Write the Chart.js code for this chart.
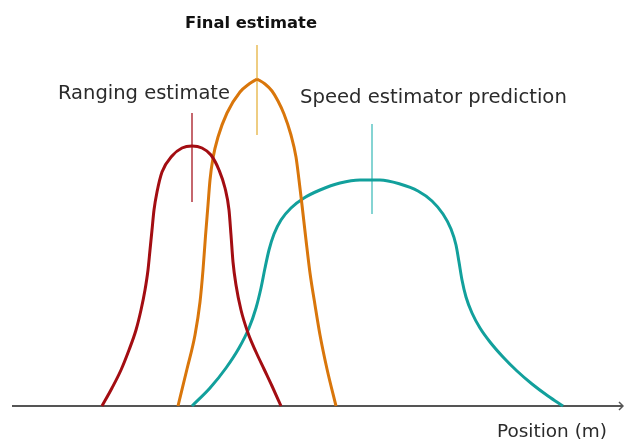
<!DOCTYPE html>
<html>
<head>
<meta charset="utf-8">
<script src="https://cdn.jsdelivr.net/npm/chart.js@4.4.1/dist/chart.umd.min.js"></script>
<style>
  body { margin: 0; background: #fff; }
  #wrap { width: 624px; height: 445px; }
</style>
</head>
<body>
<div id="wrap"><canvas id="myChart" width="624" height="445"></canvas></div>
<script>
// positions (m) and relative likelihood
var rangingPos = [10.2, 11.2, 12.1, 12.9, 13.6, 14.1, 14.5, 14.8, 15.0, 15.2, 15.4, 15.7, 16.2, 17.2, 18.2, 19.2, 20.2, 21.1, 21.9, 22.5, 22.9, 23.1, 23.3, 23.6, 24.1, 24.8, 25.6, 26.4, 27.2, 28.1];
var rangingVal = [0, 0.18, 0.36, 0.56, 0.76, 0.96, 1.16, 1.36, 1.56, 1.76, 1.96, 2.14, 2.34, 2.50, 2.58, 2.60, 2.58, 2.51, 2.36, 2.18, 1.96, 1.71, 1.44, 1.21, 0.96, 0.73, 0.54, 0.37, 0.20, 0];

var finalPos = [17.8, 18.7, 19.5, 20.0, 20.3, 20.55, 20.8, 21.0, 21.3, 21.8, 22.7, 24.0, 24.9, 25.7, 26.5, 27.2, 27.8, 28.4, 29.1, 29.6, 29.9, 30.2, 30.6, 31.0, 31.5, 32.0, 32.7, 33.6];
var finalVal = [0, 0.37, 0.71, 1.04, 1.36, 1.70, 2.01, 2.26, 2.48, 2.69, 2.93, 3.14, 3.22, 3.27, 3.22, 3.15, 3.05, 2.92, 2.71, 2.49, 2.26, 2.01, 1.66, 1.33, 1.01, 0.71, 0.37, 0];

var speedPos = [19.2, 21.0, 22.6, 23.9, 24.9, 25.6, 26.1, 26.5, 26.9, 27.4, 28.1, 29.1, 30.4, 32.0, 34.0, 36.0, 38.0, 40.0, 41.8, 43.2, 44.3, 45.1, 45.6, 45.9, 46.2, 46.6, 47.2, 48.0, 49.0, 50.3, 51.7, 53.2, 54.8, 56.3];
var speedVal = [0, 0.18, 0.38, 0.58, 0.78, 0.98, 1.18, 1.38, 1.56, 1.72, 1.86, 1.98, 2.08, 2.16, 2.23, 2.26, 2.26, 2.22, 2.15, 2.05, 1.92, 1.77, 1.61, 1.44, 1.26, 1.09, 0.93, 0.78, 0.64, 0.49, 0.35, 0.22, 0.10, 0];

// peak markers: position, bottom, top
var rangingMark = [19.2, 2.04, 2.93];
var finalMark = [25.7, 2.71, 3.61];
var speedMark = [37.2, 1.92, 2.82];

var labels = ["Ranging estimate", "Final estimate", "Speed estimator prediction"];
var axisLabel = "Position (m)";

function toPoints(xs, ys) {
  return xs.map(function (x, i) { return { x: x, y: ys[i] }; });
}

function curve(points, color) {
  return {
    data: points,
    borderColor: color,
    borderWidth: 3,
    pointRadius: 0,
    showLine: true,
    fill: false,
    cubicInterpolationMode: 'monotone',
    clip: false
  };
}

function marker(m, color) {
  return {
    data: [{ x: m[0], y: m[1] }, { x: m[0], y: m[2] }],
    borderColor: color,
    borderWidth: 1.5,
    pointRadius: 0,
    showLine: true,
    fill: false,
    clip: false
  };
}

// final estimate has a pointed top: draw it as two arms meeting at the peak
var finalPts = toPoints(finalPos, finalVal);
var peak = finalVal.indexOf(Math.max.apply(null, finalVal));

function fitText(ctx, text, left, baseline, width, weight, color) {
  ctx.font = weight + ' 20px "DejaVu Sans"';
  var w = ctx.measureText(text).width;
  var size = 20 * width / w;
  ctx.font = weight + ' ' + size.toFixed(2) + 'px "DejaVu Sans"';
  ctx.fillStyle = color;
  ctx.textBaseline = 'alphabetic';
  ctx.textAlign = 'left';
  ctx.fillText(text, left, baseline);
}

var decorations = {
  id: 'decorations',
  beforeDatasetsDraw: function (chart) {
    var ctx = chart.ctx;
    var xs = chart.scales.x, ys = chart.scales.y;
    var y0 = ys.getPixelForValue(0);
    var x0 = xs.getPixelForValue(xs.min);
    var x1 = chart.width - 1;
    ctx.save();
    ctx.strokeStyle = '#555';
    ctx.lineWidth = 2;
    ctx.beginPath();
    ctx.moveTo(x0, y0);
    ctx.lineTo(x1, y0);
    ctx.stroke();
    ctx.lineWidth = 1.5;
    ctx.beginPath();
    ctx.moveTo(x1 - 4, y0 - 4);
    ctx.lineTo(x1, y0);
    ctx.lineTo(x1 - 4, y0 + 4);
    ctx.stroke();
    ctx.restore();
  },
  afterDraw: function (chart) {
    var ctx = chart.ctx;
    ctx.save();
    fitText(ctx, labels[1], 185, 28, 132, 'bold', '#111');
    fitText(ctx, labels[0], 58, 99, 172, 'normal', '#2b2b2b');
    fitText(ctx, labels[2], 300, 103, 267, 'normal', '#2b2b2b');
    fitText(ctx, axisLabel, 497, 437, 110, 'normal', '#2b2b2b');
    ctx.restore();
  }
};

var config = {
  type: 'scatter',
  data: {
    datasets: [
      curve(toPoints(rangingPos, rangingVal), '#a30d12'),
      curve(finalPts.slice(0, peak + 1), '#d9760b'),
      curve(finalPts.slice(peak), '#d9760b'),
      curve(toPoints(speedPos, speedVal), '#12a09c'),
      marker(rangingMark, '#b2343e'),
      marker(finalMark, '#e9bd58'),
      marker(speedMark, '#5cc6c4')
    ]
  },
  options: {
    responsive: false,
    animation: false,
    layout: { padding: { left: 12, right: 4, top: 0, bottom: 39 } },
    plugins: { legend: { display: false }, tooltip: { enabled: false } },
    scales: {
      x: { type: 'linear', min: 1.2, max: 62.0, display: false },
      y: { type: 'linear', min: 0, max: 4.06, display: false }
    }
  },
  plugins: [decorations]
};

var myChart = new Chart(document.getElementById('myChart').getContext('2d'), config);
</script>
</body>
</html>
